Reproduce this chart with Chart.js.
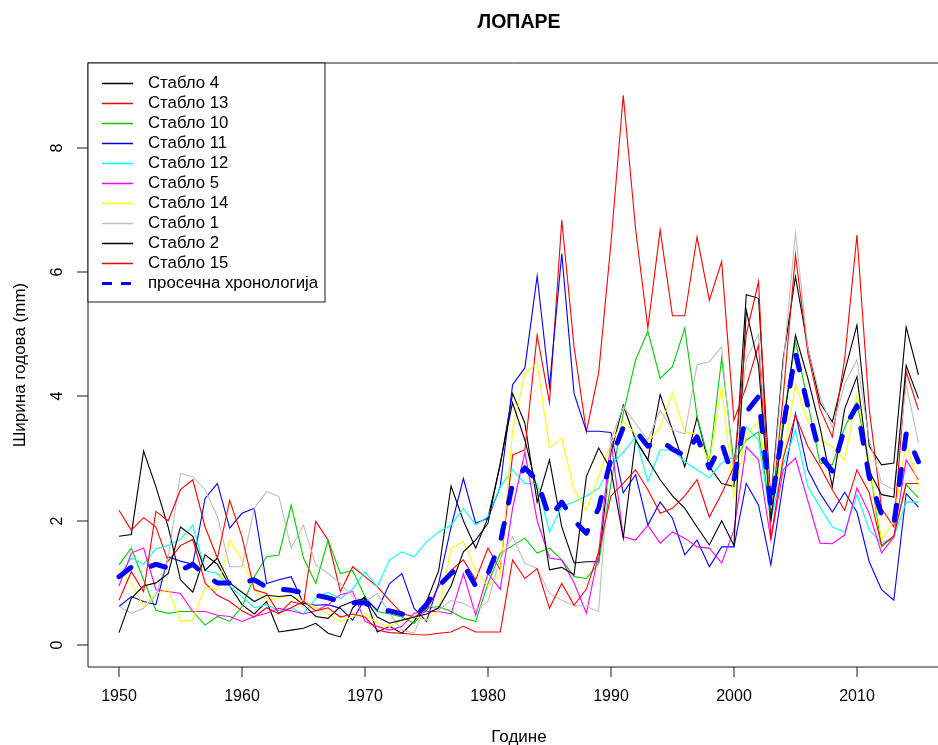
<!DOCTYPE html>
<html>
<head>
<meta charset="utf-8">
<script src="https://cdn.jsdelivr.net/npm/chart.js@4.4.1/dist/chart.umd.min.js"></script>
<style>
  html, body { margin: 0; padding: 0; background: #fff; }
  #wrap { width: 938px; height: 745px; }
</style>
</head>
<body>
<div id="wrap"><canvas id="chart" width="938" height="745"></canvas></div>
<script>
// Године (категорије)
const years = [
  1950, 1951, 1952, 1953, 1954, 1955, 1956, 1957, 1958, 1959,
  1960, 1961, 1962, 1963, 1964, 1965, 1966, 1967, 1968, 1969,
  1970, 1971, 1972, 1973, 1974, 1975, 1976, 1977, 1978, 1979,
  1980, 1981, 1982, 1983, 1984, 1985, 1986, 1987, 1988, 1989,
  1990, 1991, 1992, 1993, 1994, 1995, 1996, 1997, 1998, 1999,
  2000, 2001, 2002, 2003, 2004, 2005, 2006, 2007, 2008, 2009,
  2010, 2011, 2012, 2013, 2014, 2015
];

// Ширина годова по стаблима (mm), очитано са слике
const stablo4 = [
  1.75, 1.78, 3.12, 2.55, 1.90, 1.05, 0.85, 1.45, 1.30, 0.95,
  0.65, 0.50, 0.70, 0.21, 0.24, 0.27, 0.35, 0.19, 0.13, 0.60,
  0.78, 0.21, 0.30, 0.19, 0.38, 0.70, 1.20, 2.56, 2.00, 1.56,
  2.05, 2.90, 4.05, 3.57, 2.30, 2.98, 1.90, 1.32, 1.34, 1.34,
  3.10, 3.86, 3.30, 2.98, 4.03, 3.46, 2.87, 3.67, 2.87, 2.60,
  2.55, 5.64, 5.58, 2.30, 4.60, 5.93, 4.80, 3.90, 3.59, 4.40,
  5.15, 3.20, 2.90, 2.93, 5.12, 4.35
];
const stablo13 = [
  2.17, 1.85, 2.05, 1.90, 1.35, 1.60, 1.70, 1.00, 0.80, 0.70,
  0.55, 0.45, 0.60, 0.50, 0.70, 0.65, 1.99, 1.69, 0.86, 1.26,
  1.10, 0.94, 0.72, 0.51, 0.45, 0.55, 0.95, 1.20, 1.37, 1.05,
  1.56, 1.21, 3.06, 3.14, 4.99, 3.90, 6.84, 4.80, 3.43, 4.38,
  6.47, 8.85, 6.70, 5.10, 6.68, 5.30, 5.30, 6.57, 5.55, 6.17,
  3.62, 4.16, 4.83, 2.00, 4.00, 6.28, 4.70, 3.80, 3.35, 4.60,
  6.60, 3.80, 2.20, 1.90, 4.40, 3.78
];
const stablo10 = [
  1.29, 1.56, 1.05, 0.56, 0.51, 0.54, 0.54, 0.32, 0.46, 0.38,
  0.62, 1.10, 1.42, 1.45, 2.25, 1.40, 0.99, 1.69, 1.15, 1.20,
  0.78, 0.54, 0.50, 0.45, 0.35, 0.59, 0.62, 0.54, 0.43, 0.38,
  0.99, 1.48, 1.60, 1.72, 1.48, 1.56, 1.37, 1.10, 1.07, 1.32,
  2.60, 3.73, 4.59, 5.05, 4.29, 4.48, 5.10, 3.68, 2.93, 4.62,
  2.93, 3.30, 3.43, 2.10, 3.60, 4.90, 3.90, 2.93, 2.90, 3.50,
  3.90, 2.90, 1.58, 1.75, 2.58, 2.37
];
const stablo11 = [
  0.62, 0.78, 0.70, 0.65, 1.42, 1.35, 1.30, 2.36, 2.60, 1.88,
  2.12, 2.20, 0.99, 1.05, 1.10, 0.67, 0.64, 0.65, 0.59, 0.40,
  0.75, 0.56, 0.99, 1.15, 0.59, 0.38, 1.00, 1.90, 2.68, 1.96,
  2.04, 2.55, 4.19, 4.46, 5.94, 4.16, 6.30, 4.05, 3.44, 3.44,
  3.42, 2.45, 2.74, 1.93, 2.30, 2.04, 1.45, 1.69, 1.26, 1.58,
  1.58, 2.60, 2.25, 1.29, 2.60, 3.73, 2.82, 2.44, 2.14, 2.46,
  2.14, 1.34, 0.89, 0.72, 2.44, 2.22
];
const stablo12 = [
  1.10, 1.40, 1.30, 1.55, 1.60, 1.70, 1.93, 1.20, 1.15, 0.95,
  0.78, 0.60, 0.65, 0.55, 0.60, 0.50, 0.75, 0.85, 0.75, 0.90,
  1.18, 0.94, 1.37, 1.50, 1.42, 1.66, 1.82, 1.93, 2.20, 1.93,
  2.07, 2.55, 2.82, 2.60, 2.60, 1.82, 2.23, 2.30, 2.40, 2.52,
  2.90, 3.10, 3.35, 2.63, 3.14, 3.14, 2.95, 2.82, 2.69, 2.93,
  3.03, 3.51, 3.30, 2.00, 2.90, 3.46, 2.55, 2.22, 1.90, 1.82,
  2.42, 1.85, 1.64, 1.74, 2.30, 2.30
];
const stablo5 = [
  0.95, 1.48, 1.56, 0.89, 0.86, 0.83, 0.54, 0.54, 0.48, 0.46,
  0.38, 0.46, 0.51, 0.59, 0.55, 0.50, 0.55, 0.65, 0.81, 0.86,
  0.38, 0.30, 0.24, 0.30, 0.51, 0.54, 0.54, 0.50, 1.15, 0.48,
  1.15, 0.90, 2.20, 3.10, 2.00, 1.40, 1.37, 1.00, 0.51, 1.48,
  3.30, 1.74, 1.69, 1.93, 1.64, 1.82, 1.72, 1.58, 1.56, 1.32,
  1.85, 3.19, 2.98, 1.69, 2.82, 3.01, 2.33, 1.64, 1.63, 1.77,
  2.53, 2.12, 1.48, 1.74, 2.98, 2.66
];
const stablo14 = [
  1.23, 0.99, 0.62, 0.83, 0.89, 0.38, 0.40, 0.94, 0.89, 1.69,
  1.37, 0.89, 0.72, 0.75, 0.80, 0.70, 0.60, 0.50, 0.38, 0.46,
  0.51, 0.35, 0.30, 0.40, 0.46, 0.40, 0.55, 1.56, 1.66, 1.21,
  0.94, 1.15, 3.44, 4.37, 4.54, 3.17, 3.33, 2.50, 2.17, 2.71,
  3.25, 3.60, 3.40, 3.27, 3.50, 4.07, 3.43, 3.40, 2.93, 4.16,
  2.38, 3.40, 3.60, 2.40, 3.00, 4.20, 3.60, 3.30, 3.19, 2.98,
  4.03, 2.93, 1.69, 2.00, 3.27, 2.55
];
const stablo1 = [
  0.62, 0.51, 0.59, 0.80, 1.40, 2.76, 2.71, 2.50, 2.07, 1.26,
  1.26, 2.20, 2.47, 2.39, 1.56, 1.93, 1.29, 1.15, 0.99, 0.78,
  0.70, 0.83, 0.51, 0.24, 0.19, 0.67, 0.56, 0.72, 0.67, 0.56,
  0.70, 1.40, 1.74, 1.32, 1.23, 0.83, 0.72, 0.64, 0.62, 0.54,
  3.30, 3.84, 3.57, 3.30, 3.78, 3.46, 3.40, 4.51, 4.56, 4.80,
  2.70, 4.60, 5.00, 2.20, 4.50, 6.63, 4.80, 4.00, 3.50, 4.20,
  4.59, 3.30, 2.60, 2.50, 4.20, 3.25
];
const stablo2 = [
  0.20, 0.75, 0.95, 1.00, 1.15, 1.90, 1.75, 1.20, 1.40, 1.00,
  0.85, 0.70, 0.80, 0.78, 0.80, 0.65, 0.46, 0.43, 0.62, 0.70,
  0.75, 0.45, 0.35, 0.40, 0.45, 0.50, 0.60, 0.95, 1.50, 1.69,
  1.96, 2.93, 3.90, 3.30, 2.50, 1.21, 1.25, 1.13, 2.71, 3.17,
  2.82, 1.72, 3.30, 2.98, 2.66, 2.40, 2.20, 1.90, 1.61, 2.00,
  1.60, 5.39, 4.50, 2.00, 3.50, 4.99, 4.30, 3.50, 2.55, 3.80,
  4.32, 2.80, 2.42, 2.38, 4.50, 3.97
];
const stablo15 = [
  0.72, 1.18, 0.86, 2.15, 2.00, 2.50, 2.66, 1.90, 1.40, 2.33,
  1.74, 0.89, 0.83, 0.51, 0.60, 0.70, 0.55, 0.60, 0.45, 0.50,
  0.45, 0.24, 0.20, 0.19, 0.17, 0.16, 0.19, 0.21, 0.30, 0.21,
  0.21, 0.21, 1.37, 1.07, 1.23, 0.59, 0.99, 0.64, 0.90, 1.50,
  2.40, 2.60, 2.82, 2.50, 2.12, 2.20, 2.40, 2.66, 2.06, 2.44,
  2.87, 5.00, 5.85, 1.70, 3.00, 3.70, 3.20, 2.87, 2.50, 2.17,
  2.82, 2.45, 1.60, 1.75, 2.60, 2.60
];
// Просечна хронологија
const prosek = [
  1.10, 1.25, 1.22, 1.30, 1.24, 1.20, 1.30, 1.12, 1.00, 1.00,
  1.00, 1.05, 0.93, 0.90, 0.88, 0.84, 0.80, 0.76, 0.70, 0.68,
  0.68, 0.56, 0.55, 0.50, 0.45, 0.65, 0.95, 1.15, 1.30, 0.95,
  1.15, 1.65, 2.60, 2.85, 2.65, 2.05, 2.30, 2.00, 1.80, 2.20,
  3.00, 3.50, 3.45, 3.20, 3.30, 3.15, 3.05, 3.35, 2.85, 3.25,
  2.65, 3.75, 4.00, 2.20, 3.50, 4.70, 3.85, 3.05, 2.80, 3.50,
  3.85, 2.70, 2.10, 1.95, 3.40, 2.95
];

const xTicks = [1950, 1960, 1970, 1980, 1990, 2000, 2010];
const yTicks = [0, 2, 4, 6, 8];

const series = [
  { label: 'Стабло 4',  data: stablo4,  color: '#000000' },
  { label: 'Стабло 13', data: stablo13, color: '#FF0000' },
  { label: 'Стабло 10', data: stablo10, color: '#00CD00' },
  { label: 'Стабло 11', data: stablo11, color: '#0000FF' },
  { label: 'Стабло 12', data: stablo12, color: '#00FFFF' },
  { label: 'Стабло 5',  data: stablo5,  color: '#FF00FF' },
  { label: 'Стабло 14', data: stablo14, color: '#FFFF00' },
  { label: 'Стабло 1',  data: stablo1,  color: '#BEBEBE' },
  { label: 'Стабло 2',  data: stablo2,  color: '#000000' },
  { label: 'Стабло 15', data: stablo15, color: '#FF0000' }
];

const FONT = '"Liberation Sans", Arial, Helvetica, sans-serif';

const datasets = series.map((s, i) => ({
  label: s.label,
  data: years.map((y, k) => ({ x: y, y: s.data[k] })),
  borderColor: s.color,
  borderWidth: 1.1,
  pointRadius: 0,
  fill: false,
  tension: 0,
  order: series.length - i + 1
}));
datasets.push({
  label: 'просечна хронологија',
  data: years.map((y, k) => ({ x: y, y: prosek[k] })),
  borderColor: '#0000FF',
  borderWidth: 5,
  borderDash: [15, 21],
  borderCapStyle: 'round',
  borderJoinStyle: 'round',
  pointRadius: 0,
  fill: false,
  tension: 0,
  order: 0
});

// Оквир, подеоци, натписи и легенда у стилу R графика
const rStyle = {
  id: 'rStyle',
  afterDraw(chart) {
    const c = chart.ctx;
    const a = chart.chartArea;
    const xs = chart.scales.x, ys = chart.scales.y;
    c.save();
    c.strokeStyle = '#1a1a1a';
    c.lineWidth = 1;
    // оквир
    c.beginPath();
    c.moveTo(a.right + 2, a.top);
    c.lineTo(a.left, a.top);
    c.lineTo(a.left, a.bottom);
    c.lineTo(a.right + 2, a.bottom);
    c.stroke();
    // подеоци x
    c.fillStyle = '#000';
    c.font = '16px ' + FONT;
    c.textAlign = 'center';
    c.textBaseline = 'middle';
    xTicks.forEach(t => {
      const px = Math.round(xs.getPixelForValue(t));
      c.beginPath();
      c.moveTo(px, a.bottom);
      c.lineTo(px, a.bottom + 10);
      c.stroke();
      c.fillText(String(t), px, 697);
    });
    // подеоци y
    yTicks.forEach(t => {
      const py = Math.round(ys.getPixelForValue(t));
      c.beginPath();
      c.moveTo(a.left - 11, py);
      c.lineTo(a.left, py);
      c.stroke();
      c.save();
      c.translate(58, py);
      c.rotate(-Math.PI / 2);
      c.fillText(String(t), 0, 0);
      c.restore();
    });
    // наслови
    c.font = '17px ' + FONT;
    c.fillText('Године', 519, 737);
    c.save();
    c.translate(20, (a.top + a.bottom) / 2);
    c.rotate(-Math.PI / 2);
    c.fillText('Ширина годова (mm)', 0, 0);
    c.restore();
    c.font = 'bold 19.5px ' + FONT;
    c.fillText('ЛОПАРЕ', 519, 23);

    // легенда
    const lx = a.left, ly = a.top, lw = 237, lh = 239;
    c.fillStyle = '#fff';
    c.fillRect(lx, ly, lw, lh);
    c.strokeStyle = '#1a1a1a';
    c.lineWidth = 1;
    c.strokeRect(lx, ly, lw, lh);
    c.font = '16.8px ' + FONT;
    c.textAlign = 'left';
    chart.data.datasets.forEach((ds, i) => {
      const ry = ly + 20.5 + i * 20;
      c.strokeStyle = ds.borderColor;
      if (ds.borderDash) {
        c.lineWidth = 3;
        c.setLineDash([10, 9]);
      } else {
        c.lineWidth = 1.5;
        c.setLineDash([]);
      }
      c.beginPath();
      c.moveTo(102, ry);
      c.lineTo(133, ry);
      c.stroke();
      c.setLineDash([]);
      c.fillStyle = '#000';
      c.fillText(ds.label, 148, ry);
    });
    c.restore();
  }
};

new Chart(document.getElementById('chart'), {
  type: 'line',
  data: { datasets: datasets },
  options: {
    responsive: false,
    animation: false,
    layout: { padding: { left: 88, top: 63, right: 0, bottom: 78 } },
    plugins: {
      legend: { display: false },
      title: { display: false },
      tooltip: { enabled: false }
    },
    scales: {
      x: { type: 'linear', display: false, min: 1947.48, max: 2016.59 },
      y: { type: 'linear', display: false, min: -0.354, max: 9.368 }
    }
  },
  plugins: [rStyle]
});
</script>
</body>
</html>
